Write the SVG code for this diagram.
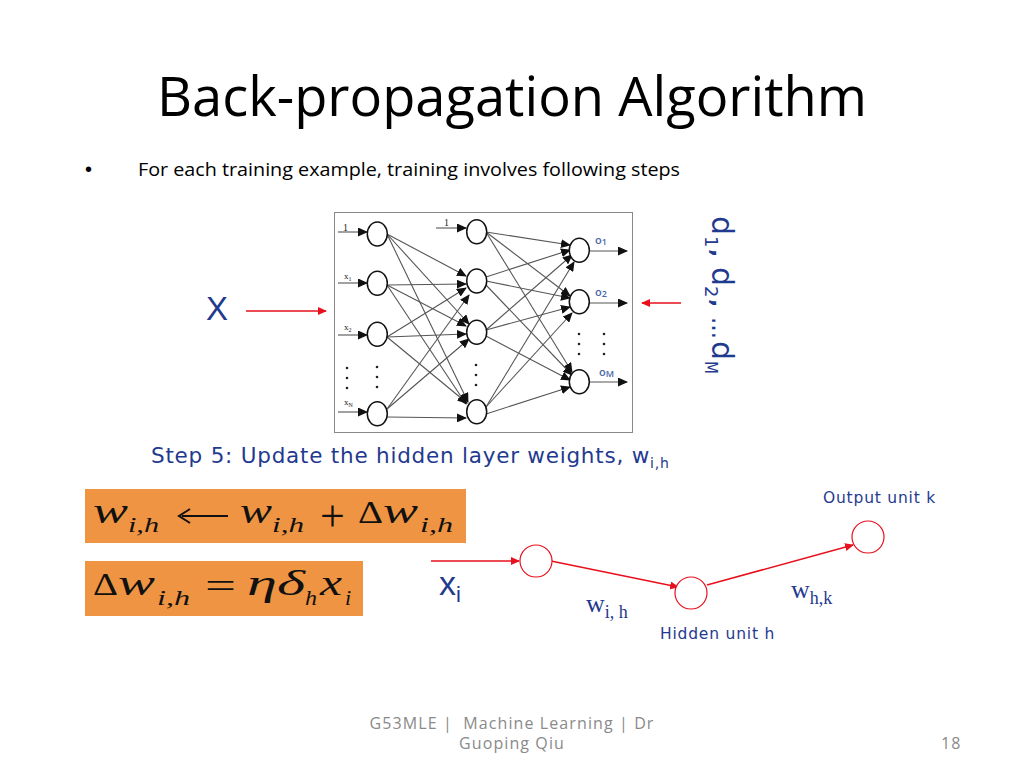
<svg xmlns="http://www.w3.org/2000/svg" width="1024" height="768" viewBox="0 0 1024 768">
<style>
text{font-family:"Open Sans","Liberation Sans",sans-serif}
.b{fill:#1f3a8f;font-family:"DejaVu Sans",sans-serif}
.a{fill:#1f3a8f;font-family:"Liberation Sans",sans-serif}
.t{fill:#1f3a8f;font-family:"Liberation Serif",serif}
.m{font-family:"Liberation Serif",serif;font-style:italic;fill:#111}
.u{font-size:22px}
.w{font-size:35px}
.s{font-family:"Liberation Serif",serif;fill:#222}
.g{font-family:"Liberation Serif",serif;fill:#111}
.n{fill:#fff;stroke:#111;stroke-width:1.5}
.l line{stroke:#555;stroke-width:1.1;marker-end:url(#k)}
.r{stroke:#e8101c;stroke-width:1.5;fill:none;marker-end:url(#a)}
.c{fill:#fff;stroke:#e8101c;stroke-width:1.2}
.o{fill:#ef9442}
.d{fill:#222}
.p{font-size:11px;font-weight:600;fill:#4a67a8}
.f{font-size:16px;fill:#8a8a8a;letter-spacing:1.100px;white-space:pre}
</style>
<defs>
<marker id="k" markerUnits="userSpaceOnUse" markerWidth="10" markerHeight="9" refX="9" refY="4.500" orient="auto"><path d="M0 0L10 4.500L0 9z" fill="#111"/></marker>
<marker id="a" markerUnits="userSpaceOnUse" markerWidth="9" markerHeight="8" refX="8" refY="4" orient="auto"><path d="M0 0L9 4L0 8z" fill="#e8101c"/></marker>
</defs>
<rect width="1024" height="768" fill="#fff"/>
<text x="157" y="116" font-size="54" textLength="710" lengthAdjust="spacingAndGlyphs" fill="#000">Back-propagation Algorithm</text>
<text x="85" y="176" font-size="20" style="font-family:'Liberation Sans',sans-serif" fill="#000">•</text>
<text x="138" y="176" font-size="18" textLength="542" lengthAdjust="spacingAndGlyphs" fill="#000">For each training example, training involves following steps</text>

<rect x="334.500" y="212.500" width="298" height="220" fill="#fff" stroke="#888" stroke-width="1"/>

<g id="connectors">
<g class="l">
<line x1="338" y1="232" x2="367" y2="232"/><line x1="338" y1="283" x2="367" y2="283"/><line x1="338" y1="335" x2="367" y2="335"/><line x1="338" y1="412" x2="367" y2="412"/>
<line x1="436" y1="228" x2="466" y2="228"/>
<line x1="589" y1="251" x2="627" y2="251"/><line x1="589" y1="303" x2="627" y2="303"/><line x1="589" y1="382" x2="627" y2="382"/>
<line x1="387" y1="234" x2="466" y2="276"/><line x1="387" y1="234" x2="469" y2="324"/><line x1="387" y1="234" x2="468" y2="402"/>
<line x1="387" y1="285" x2="466" y2="284"/><line x1="387" y1="285" x2="466" y2="326"/><line x1="387" y1="285" x2="466" y2="404"/>
<line x1="387" y1="337" x2="466" y2="288"/><line x1="387" y1="337" x2="466" y2="334"/><line x1="387" y1="337" x2="467" y2="403"/>
<line x1="387" y1="409" x2="469" y2="295"/><line x1="387" y1="409" x2="469" y2="339"/><line x1="387" y1="417" x2="466" y2="418"/>
<line x1="486" y1="232" x2="570" y2="245"/><line x1="486" y1="232" x2="570" y2="296"/><line x1="486" y1="232" x2="572" y2="372"/>
<line x1="486" y1="277" x2="570" y2="250"/><line x1="486" y1="281" x2="570" y2="298"/><line x1="486" y1="285" x2="572" y2="375"/>
<line x1="486" y1="330" x2="572" y2="255"/><line x1="486" y1="330" x2="570" y2="307"/><line x1="486" y1="336" x2="570" y2="380"/>
<line x1="486" y1="407" x2="574" y2="262"/><line x1="486" y1="407" x2="572" y2="313"/><line x1="486" y1="414" x2="570" y2="387"/>
</g>
<line class="r" x1="246" y1="311" x2="326" y2="311"/>
<line class="r" x1="681" y1="303" x2="642" y2="303"/>
<line class="r" x1="431" y1="561" x2="519" y2="561"/>
<line class="r" x1="551" y1="561" x2="678" y2="587"/>
<line class="r" x1="707" y1="585" x2="853" y2="545"/>
</g>

<g id="input-1"><ellipse class="n" cx="377.300" cy="234" rx="10" ry="12"/><text class="s" x="343" y="231" font-size="10">1</text></g>
<g id="input-x1"><ellipse class="n" cx="377.300" cy="283.300" rx="10" ry="12"/><text class="s" x="344" y="279" font-size="9">x<tspan font-size="6" dy="2">1</tspan></text></g>
<g id="input-x2"><ellipse class="n" cx="377.300" cy="334.300" rx="10" ry="12"/><text class="s" x="344" y="330" font-size="9">x<tspan font-size="6" dy="2">2</tspan></text></g>
<g id="input-xn"><ellipse class="n" cx="377.300" cy="413.700" rx="10" ry="12"/><text class="s" x="344" y="405" font-size="9">x<tspan font-size="6" dy="2">N</tspan></text></g>
<g id="hidden-1"><ellipse class="n" cx="476.700" cy="231.700" rx="10" ry="12"/><text class="s" x="444" y="226" font-size="10">1</text></g>
<g id="hidden-2"><ellipse class="n" cx="476.700" cy="281" rx="10" ry="12"/></g>
<g id="hidden-3"><ellipse class="n" cx="476.700" cy="332.300" rx="10" ry="12"/></g>
<g id="hidden-4"><ellipse class="n" cx="476.700" cy="411.700" rx="10" ry="12"/></g>
<g id="output-1"><ellipse class="n" cx="579.300" cy="250.300" rx="10" ry="12"/><text class="p" x="595" y="244">o<tspan font-size="9" dy="1">1</tspan></text></g>
<g id="output-2"><ellipse class="n" cx="579.300" cy="301.700" rx="10" ry="12"/><text class="p" x="595" y="296">o<tspan font-size="9" dy="1">2</tspan></text></g>
<g id="output-m"><ellipse class="n" cx="579.300" cy="381.700" rx="10" ry="12"/><text class="p" x="599" y="376">o<tspan font-size="9" dy="1">M</tspan></text></g>
<g id="dots">
<circle class="d" cx="347" cy="368" r="1.300"/><circle class="d" cx="347" cy="378" r="1.300"/><circle class="d" cx="347" cy="388" r="1.300"/>
<circle class="d" cx="377" cy="367" r="1.300"/><circle class="d" cx="377" cy="377" r="1.300"/><circle class="d" cx="377" cy="387" r="1.300"/>
<circle class="d" cx="476" cy="365" r="1.300"/><circle class="d" cx="476" cy="375" r="1.300"/><circle class="d" cx="476" cy="385" r="1.300"/>
<circle class="d" cx="579" cy="334" r="1.300"/><circle class="d" cx="579" cy="344" r="1.300"/><circle class="d" cx="579" cy="354" r="1.300"/>
<circle class="d" cx="604" cy="334" r="1.300"/><circle class="d" cx="604" cy="344" r="1.300"/><circle class="d" cx="604" cy="354" r="1.300"/>
</g>

<text class="a" x="206" y="320" font-size="33">X</text>
<g transform="translate(712 216) rotate(90)">
<text class="b" font-size="30" x="0" y="0">d</text>
<text class="b" font-size="18" x="20" y="7">1</text>
<text class="b" font-size="22" font-weight="bold" x="33" y="0">,</text>
<text class="b" font-size="30" x="51" y="0">d</text>
<text class="b" font-size="18" x="70" y="7">2</text>
<text class="b" font-size="22" font-weight="bold" x="83" y="0">,</text>
<text class="b" font-size="26" x="101" y="0" textLength="22" lengthAdjust="spacingAndGlyphs">…</text>
<text class="b" font-size="30" x="125" y="0">d</text>
<text class="b" font-size="17" x="145" y="7" textLength="13" lengthAdjust="spacingAndGlyphs">M</text>
</g>
<text class="b" x="151" y="463" font-size="21.500" letter-spacing="0.770">Step 5: Update the hidden layer weights, w<tspan font-size="14" dy="5">i,h</tspan></text>

<g id="eq1"><rect class="o" x="85" y="489" width="381" height="54"/>
<text class="m w" x="93" y="523" textLength="35" lengthAdjust="spacingAndGlyphs">w</text>
<text class="m u" x="128" y="532" textLength="31" lengthAdjust="spacingAndGlyphs">i,h</text>
<path d="M228 516H182M190 509L179 516L190 523" fill="none" stroke="#111" stroke-width="2"/>
<text class="m w" x="240" y="523" textLength="32" lengthAdjust="spacingAndGlyphs">w</text>
<text class="m u" x="272" y="532" textLength="32" lengthAdjust="spacingAndGlyphs">i,h</text>
<text class="g" font-size="44" x="320" y="531">+</text>
<text class="g" font-size="32" x="358" y="523" textLength="25" lengthAdjust="spacingAndGlyphs">Δ</text>
<text class="m w" x="383" y="523" textLength="35" lengthAdjust="spacingAndGlyphs">w</text>
<text class="m u" x="420" y="532" textLength="33" lengthAdjust="spacingAndGlyphs">i,h</text></g>
<g id="eq2"><rect class="o" x="85" y="561" width="278" height="55"/>
<text class="g" font-size="32" x="93" y="595" textLength="25" lengthAdjust="spacingAndGlyphs">Δ</text>
<text class="m w" x="118" y="595" textLength="37" lengthAdjust="spacingAndGlyphs">w</text>
<text class="m u" x="157" y="605" textLength="33" lengthAdjust="spacingAndGlyphs">i,h</text>
<text class="g" font-size="36" x="205" y="598" textLength="31" lengthAdjust="spacingAndGlyphs">=</text>
<text class="m w" x="247" y="595" textLength="58" lengthAdjust="spacingAndGlyphs">ηδ</text>
<text class="m u" x="305" y="605" textLength="12" lengthAdjust="spacingAndGlyphs">h</text>
<text class="m w" x="320" y="595" textLength="22" lengthAdjust="spacingAndGlyphs">x</text>
<text class="m u" x="345" y="605">i</text></g>

<g id="unit-input"><circle class="c" cx="536" cy="561" r="16"/></g>
<g id="unit-hidden"><circle class="c" cx="691" cy="593" r="16"/><text class="b" x="660" y="639" font-size="15.500" letter-spacing="0.800">Hidden unit h</text></g>
<g id="unit-output"><circle class="c" cx="868" cy="537" r="16"/><text class="b" x="823" y="503" font-size="15.500" letter-spacing="0.800">Output unit k</text></g>
<text class="a" x="439" y="595" font-size="34">x<tspan font-size="22" dy="7">i</tspan></text>
<text class="t" x="586" y="612" font-size="26">w<tspan font-size="18" dy="6">i, h</tspan></text>
<text class="t" x="791" y="598" font-size="26">w<tspan font-size="18" dy="6">h,k</tspan></text>

<text class="f" x="512" y="729" text-anchor="middle">G53MLE |  Machine Learning | Dr</text>
<text class="f" x="512" y="749" text-anchor="middle">Guoping Qiu</text>
<text class="f" x="941" y="749">18</text>
</svg>
